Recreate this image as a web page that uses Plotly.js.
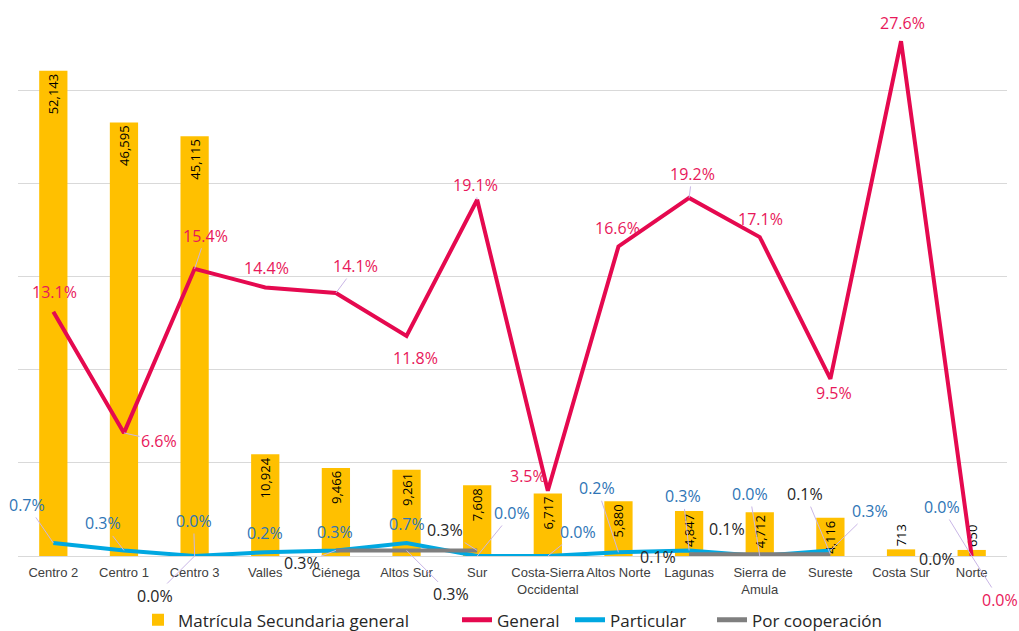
<!DOCTYPE html>
<html>
<head>
<meta charset="utf-8">
<script src="https://cdn.plot.ly/plotly-3.0.1.min.js"></script>
<style>
  html, body { margin: 0; padding: 0; background: #ffffff; }
  #chart { width: 1019px; height: 631px; }
</style>
</head>
<body>
<div id="chart"></div>
<script>
// ---- Data ----
const categories = ['Centro 2', 'Centro 1', 'Centro 3', 'Valles', 'Ciénega', 'Altos Sur', 'Sur',
  'Costa-Sierra<br>Occidental', 'Altos Norte', 'Lagunas', 'Sierra de<br>Amula', 'Sureste', 'Costa Sur', 'Norte'];
const matricula = [52143, 46595, 45115, 10924, 9466, 9261, 7608, 6717, 5880, 4847, 4712, 4116, 713, 650];
const general = [13.1, 6.6, 15.4, 14.4, 14.1, 11.8, 19.1, 3.5, 16.6, 19.2, 17.1, 9.5, 27.6, 0.0];
const particular = [0.7, 0.3, 0.0, 0.2, 0.3, 0.7, 0.0, 0.0, 0.2, 0.3, 0.0, 0.3, null, 0.0];
const cooperacion = [null, null, 0.0, null, 0.3, 0.3, 0.3, null, null, 0.1, 0.1, 0.1, null, 0.0];

const seriesNames = ['Matrícula Secundaria general', 'General', 'Particular', 'Por cooperación'];

// ---- Label placement (pixel offsets from each point) ----
const generalOff = [[1,-20],[35,8],[11,-33],[1,-19],[20,-27],[9,22],[-2,-15],[-20,-15],[-1,-18],[3,-24],[1,-18],[4,14],[1,-18],[28,44]];
const generalLead = [0,1,1,0,1,0,1,0,0,1,0,0,0,1];
const particularOff = [[-26,-38],[-21,-27],[-1,-35],[0,-19],[-1,-18],[0,-19],[35,-43],[30,-24],[-21,-64],[-6,-54],[-10,-62],[40,-39],[0,0],[-30,-49]];
const particularLead = [1,1,1,0,0,0,1,1,1,1,1,1,0,1];
const coopOff = [[0,0],[0,0],[-40,40],[0,0],[-34,13],[44,44],[-32,-20],[0,0],[0,0],[-31,3],[-33,-25],[-25,-60],[0,0],[-35,3]];
const coopLead = [0,0,1,0,1,1,1,0,0,0,0,1,0,0];

// legend entry widths (px) to space the legend like the reference
const legendWidths = [274, 68, 97, 0];

const barTextPos = matricula.map(v => v < 2000 ? 'outside' : 'inside');

const C_BAR = '#FFC000', C_GEN = '#E5094F', C_PART = '#00A8E1', C_COOP = '#7F7F7F';
const LEADER = '#C9B6E6';
const pctFont = 'Open Sans, Noto Sans, sans-serif';

const traces = [
  {
    type: 'bar', name: seriesNames[0], x: categories, y: matricula,
    marker: { color: C_BAR }, width: 0.4, legendwidth: legendWidths[0],
    texttemplate: '%{y:,}', textposition: barTextPos, textangle: -90,
    insidetextanchor: 'end', constraintext: 'none', cliponaxis: false,
    textfont: { family: pctFont, size: 13, color: '#000000' },
    hoverinfo: 'skip'
  },
  {
    type: 'scatter', mode: 'lines', name: seriesNames[1], x: categories, y: general, yaxis: 'y2',
    line: { color: C_GEN, width: 4 }, cliponaxis: false, legendwidth: legendWidths[1]
  },
  {
    type: 'scatter', mode: 'lines', name: seriesNames[2], x: categories, y: particular, yaxis: 'y2',
    line: { color: C_PART, width: 4 }, cliponaxis: false, connectgaps: false, legendwidth: legendWidths[2]
  },
  {
    type: 'scatter', mode: 'lines', name: seriesNames[3], x: categories, y: cooperacion, yaxis: 'y2',
    line: { color: C_COOP, width: 4 }, cliponaxis: false, connectgaps: false
  }
];

const annotations = [];
function addLabels(vals, offs, leads, color) {
  vals.forEach((v, i) => {
    if (v === null) return;
    annotations.push({
      x: categories[i], y: v, xref: 'x', yref: 'y2',
      text: v.toFixed(1) + '%',
      showarrow: true, arrowhead: 0, arrowwidth: 1, standoff: 0,
      arrowcolor: leads[i] ? LEADER : 'rgba(0,0,0,0)',
      ax: offs[i][0], ay: offs[i][1],
      font: { family: pctFont, size: 16, color: color }
    });
  });
}
addLabels(general, generalOff, generalLead, '#E8185A');
addLabels(particular, particularOff, particularLead, '#2E75B6');
addLabels(cooperacion, coopOff, coopLead, '#262626');

const layout = {
  width: 1019, height: 631,
  margin: { l: 18, r: 12, t: 20, b: 75, autoexpand: false },
  paper_bgcolor: '#ffffff', plot_bgcolor: '#ffffff',
  showlegend: true,
  bargap: 0.6,
  xaxis: {
    type: 'category', range: [-0.5, 13.5], showgrid: false, zeroline: false, showline: false, ticks: '',
    tickangle: 0, ticklabelstandoff: 7,
    tickfont: { family: 'Liberation Sans Narrow, Liberation Sans, Arial, sans-serif', size: 13, color: '#404040' },
    automargin: false
  },
  yaxis: {
    range: [0, 57600], dtick: 10000, showticklabels: false, ticks: '',
    showgrid: true, gridcolor: '#D9D9D9', gridwidth: 1, zeroline: true, zerolinecolor: '#D9D9D9',
    showline: false, automargin: false
  },
  yaxis2: {
    overlaying: 'y', side: 'right', range: [0, 28.74], showgrid: false, zeroline: false,
    showticklabels: false, ticks: '', showline: false, automargin: false
  },
  legend: {
    orientation: 'h', x: 0.5, xanchor: 'center', y: -0.12, yanchor: 'middle',
    font: { family: 'Open Sans, Noto Sans, sans-serif', size: 17, color: '#262626' },
    itemsizing: 'constant', traceorder: 'normal', itemwidth: 30
  },
  annotations: annotations
};

Plotly.newPlot('chart', traces, layout, { displayModeBar: false, staticPlot: true });
</script>
</body>
</html>
